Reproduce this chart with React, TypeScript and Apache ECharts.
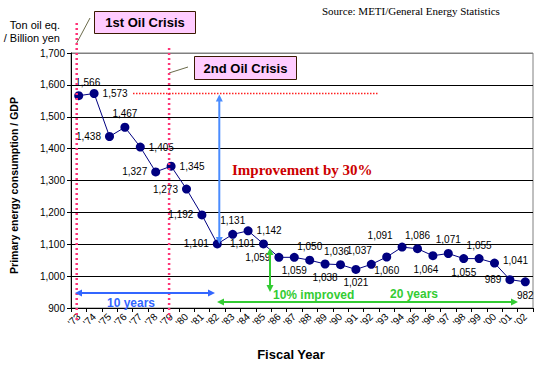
import React, { useEffect, useRef } from "react";
import * as echarts from "echarts";

const years = ["'73", "'74", "'75", "'76", "'77", "'78", "'79", "'80", "'81", "'82", "'83", "'84", "'85", "'86", "'87", "'88", "'89", "'90", "'91", "'92", "'93", "'94", "'95", "'96", "'97", "'98", "'99", "'00", "'01", "'02"];
const intensity = [1566, 1573, 1438, 1467, 1405, 1327, 1345, 1273, 1192, 1101, 1131, 1142, 1101, 1059, 1059, 1050, 1038, 1036, 1021, 1037, 1060, 1091, 1086, 1064, 1071, 1055, 1055, 1041, 989, 982];
const labelPositions = ["top", "right", "left", "top", "right", "left", "right", "left", "left", "left", "top", "right", "left", "left", "bottom", "top", "bottom", "top", "bottom", "top", "bottom", "top", "top", "bottom", "top", "bottom", "top", "right", "left", "bottom"];
const labelOffsets: Record<number, number[]> = { 0: [9, 0], 17: [-4, 0], 19: [-12, 0], 21: [-22, 2], 23: [-7, 0], 27: [0, -3] };
const yTicks = [900, 1000, 1100, 1200, 1300, 1400, 1500, 1600, 1700];

const SANS = "'Liberation Sans', Arial, sans-serif";
const SERIF = "'Liberation Serif', 'Times New Roman', serif";

function arrow(x1: number, y1: number, x2: number, y2: number, color: string, w: number) {
  const dx = x2 - x1, dy = y2 - y1;
  const len = Math.hypot(dx, dy);
  const ux = dx / len, uy = dy / len;
  const px = -uy, py = ux;
  const hl = 7, hw = 3.5;
  const head = (tx: number, ty: number, dirx: number, diry: number) => ({
    type: "polygon",
    shape: {
      points: [
        [tx, ty],
        [tx - dirx * hl + px * hw, ty - diry * hl + py * hw],
        [tx - dirx * hl - px * hw, ty - diry * hl - py * hw],
      ],
    },
    style: { fill: color },
    z: 10,
  });
  return [
    { type: "line", shape: { x1: x1 + ux * 3, y1: y1 + uy * 3, x2: x2 - ux * 3, y2: y2 - uy * 3 }, style: { stroke: color, lineWidth: w }, z: 10 },
    head(x1, y1, -ux, -uy),
    head(x2, y2, ux, uy),
  ];
}

export default function App() {
  const ref = useRef<HTMLDivElement>(null);
  useEffect(() => {
    if (!ref.current) return;
    const chart = echarts.init(ref.current, null, { renderer: "svg" });
    const data = intensity.map((v, i) => ({
      value: v,
      label: { position: labelPositions[i], offset: labelOffsets[i] || [0, 0] },
    }));
    const pink = "#FF3377";
    const option: any = {
      animation: false,
      backgroundColor: "#ffffff",
      grid: { left: 68, right: 8, top: 53, bottom: 56, show: true, borderColor: "#808080", borderWidth: 1 },
      xAxis: {
        type: "category",
        data: years,
        boundaryGap: true,
        name: "Fiscal Year",
        nameLocation: "middle",
        nameGap: 40,
        nameTextStyle: { fontFamily: SANS, fontSize: 13, fontWeight: "bold", color: "#000", padding: [0, 22, 0, 0] },
        axisLine: { lineStyle: { color: "#000", width: 1 } },
        axisTick: { show: true, alignWithLabel: false, length: 4, lineStyle: { color: "#000" } },
        axisLabel: { rotate: 45, fontFamily: SANS, fontSize: 10, color: "#000", margin: 7, interval: 0 },
        splitLine: { show: false },
      },
      yAxis: {
        type: "value",
        min: 900,
        max: 1700,
        interval: 100,
        name: "Primary energy consumption / GDP",
        nameLocation: "middle",
        nameGap: 52,
        nameTextStyle: { fontFamily: SANS, fontSize: 10.5, fontWeight: "bold", color: "#000", padding: [0, 10, 0, 0] },
        axisLine: { show: true, lineStyle: { color: "#000", width: 1 } },
        axisTick: { show: true, length: 4, lineStyle: { color: "#000" } },
        axisLabel: {
          fontFamily: SANS,
          fontSize: 10,
          color: "#000",
          margin: 6,
          formatter: (v: number) => v.toLocaleString("en-US"),
        },
        splitLine: {
          show: true,
          lineStyle: { color: yTicks.map((t) => (t === 1700 ? "#808080" : "#000000")), width: 1 },
        },
      },
      series: [
        {
          type: "line",
          data,
          symbol: "circle",
          symbolSize: 9,
          itemStyle: { color: "#000080" },
          lineStyle: { color: "#000080", width: 1 },
          label: { show: true, fontFamily: SANS, fontSize: 10, color: "#000", distance: 4, formatter: (p: any) => p.value.toLocaleString("en-US") },
          z: 5,
        },
      ],
    };
    chart.setOption(option);

    const pt = (i: number, v: number) => chart.convertToPixel({ gridIndex: 0 }, [i, v]) as number[];
    const x73 = pt(0, 1000)[0] - 2;
    const x79 = pt(6, 1000)[0] - 2;
    const y1573 = pt(1, 1573)[1];
    const y1101 = pt(9, 1101)[1];
    const xArrow = pt(9, 1101)[0] + 2;

    const graphic: any[] = [
      { type: "text", left: 322, top: 5, style: { text: "Source: METI/General Energy Statistics", font: `11px ${SERIF}`, fill: "#000" } },
      { type: "text", x: 60, y: 18, style: { text: "Ton oil eq.\n/ Billion yen", font: `11px ${SANS}`, fill: "#000", align: "right", lineHeight: 13 } },
      { type: "line", shape: { x1: x73, y1: 23, x2: x73, y2: 320 }, style: { stroke: pink, lineWidth: 2.5, lineDash: [2, 3] }, z: 8 },
      { type: "line", shape: { x1: x79, y1: 48, x2: x79, y2: 320 }, style: { stroke: pink, lineWidth: 2.5, lineDash: [2, 3] }, z: 8 },
      { type: "line", shape: { x1: x73, y1: 43, x2: 90, y2: 18 }, style: { stroke: "#6B6B4B", lineWidth: 1 } },
      { type: "line", shape: { x1: x79, y1: 73, x2: 188, y2: 67 }, style: { stroke: "#6B6B4B", lineWidth: 1 } },
      { type: "rect", shape: { x: 94.5, y: 11.5, width: 101, height: 22 }, style: { fill: "#FFCCFF", stroke: "#3A1A00", lineWidth: 1 }, z: 9 },
      { type: "text", x: 145, y: 22.5, style: { text: "1st Oil Crisis", font: `bold 13px ${SANS}`, fill: "#000", align: "center", verticalAlign: "middle" }, z: 10 },
      { type: "rect", shape: { x: 194.5, y: 56.5, width: 102, height: 23 }, style: { fill: "#FFCCFF", stroke: "#3A1A00", lineWidth: 1 }, z: 9 },
      { type: "text", x: 245.5, y: 68, style: { text: "2nd Oil Crisis", font: `bold 13px ${SANS}`, fill: "#000", align: "center", verticalAlign: "middle" }, z: 10 },
      { type: "line", shape: { x1: 133, y1: y1573, x2: 378, y2: y1573 }, style: { stroke: "#FF2020", lineWidth: 1.5, lineDash: [1.5, 1.5] }, z: 8 },
      ...arrow(xArrow, y1573 + 1, xArrow, y1101, "#4A8CFF", 2),
      { type: "text", x: 232, y: 170, style: { text: "Improvement by 30%", font: `bold 15px ${SERIF}`, fill: "#CC0000", verticalAlign: "middle" }, z: 10 },
      ...arrow(270, 248, 270, 292, "#33CC33", 2),
      ...arrow(75, 293, 215, 293, "#3366FF", 2),
      ...arrow(217, 302, 518, 302, "#33CC33", 2),
      { type: "text", x: 107, y: 303, style: { text: "10 years", font: `bold 12px ${SANS}`, fill: "#3366FF", verticalAlign: "middle" }, z: 10 },
      { type: "text", x: 273, y: 295, style: { text: "10% improved", font: `bold 12px ${SANS}`, fill: "#33CC33", verticalAlign: "middle" }, z: 10 },
      { type: "text", x: 390, y: 294, style: { text: "20 years", font: `bold 12px ${SANS}`, fill: "#33CC33", verticalAlign: "middle" }, z: 10 },
    ];
    chart.setOption({ graphic });
    return () => chart.dispose();
  }, []);
  return <div ref={ref} style={{ position: "fixed", left: 0, top: 0, width: 541, height: 366, background: "#fff" }} />;
}
